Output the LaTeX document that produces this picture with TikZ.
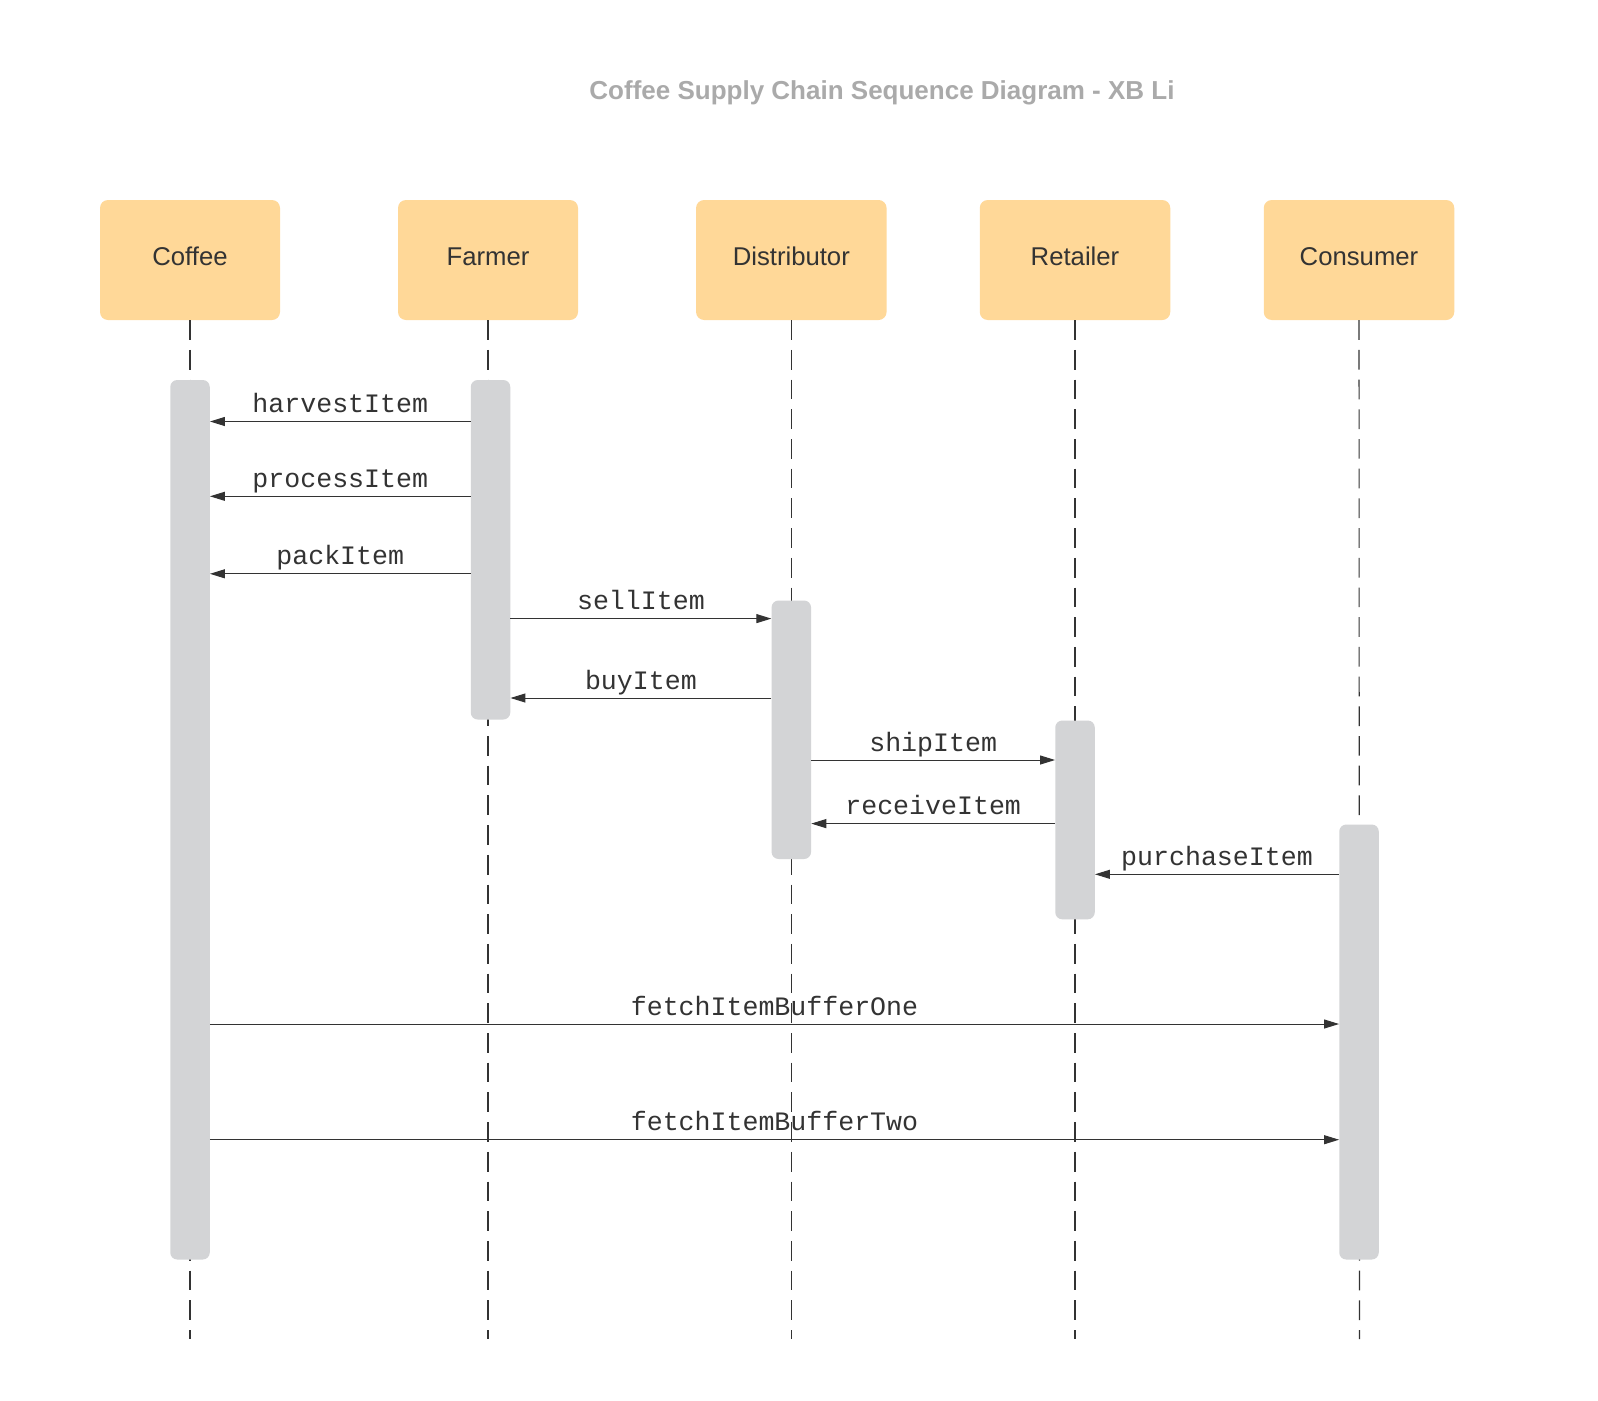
\documentclass[tikz,border=0pt]{standalone}
\usepackage{fontspec}
\setmainfont{Liberation Sans}
\newfontfamily\monofont{Liberation Mono}
\usetikzlibrary{arrows.meta}
\definecolor{boxfill}{HTML}{FFD898}
\definecolor{barfill}{HTML}{D3D4D6}
\definecolor{ink}{HTML}{333333}
\definecolor{titlegray}{HTML}{AAAAAA}
\begin{document}
\begin{tikzpicture}[x=1pt,y=-1pt,
  actor/.style={fill=boxfill, rounded corners=8pt, minimum height=120pt, inner sep=0pt,
    font=\fontsize{25.7}{30}\selectfont, text=ink, text height=16pt, text depth=6pt},
  bar/.style={fill=barfill, rounded corners=7pt, minimum width=39.5pt, inner sep=0pt},
  life/.style={draw=ink, line width=1.1pt, dash pattern=on 19.7pt off 10pt},
  msg/.style={draw=ink, line width=1pt, -{Triangle[length=15pt,width=9pt]}},
  lbl/.style={font=\monofont\fontsize{26.6}{30}\selectfont, text=ink, anchor=base, midway, yshift=9pt}]
\useasboundingbox (0,0) rectangle (1598,1400);
\fill[white] (0,0) rectangle (1598,1400);

% title
\node[font=\bfseries\fontsize{26}{30}\selectfont, text=titlegray, anchor=base] (title) at (882,99)
  {Coffee Supply Chain Sequence Diagram - XB Li};

% actors
\node[actor, minimum width=180pt] (coffee) at (190,260) {Coffee};
\node[actor, minimum width=180pt] (farmer) at (488,260) {Farmer};
\node[actor, minimum width=190.5pt] (distributor) at (791.3,260) {Distributor};
\node[actor, minimum width=190.5pt] (retailer) at (1075,260) {Retailer};
\node[actor, minimum width=190.5pt] (consumer) at (1359,260) {Consumer};

% lifeline ends
\coordinate (coffeeend) at (190,1339);
\coordinate (farmerend) at (488,1339);
\coordinate (distributorend) at (791.3,1339);
\coordinate (retailerend) at (1075,1339);
\coordinate (consumerend) at (1359.5,1339);

\draw[life] (coffee.south) -- (coffeeend);
\draw[life] (farmer.south) -- (farmerend);
\draw[life] (distributor.south) -- (distributorend);
\draw[life] (retailer.south) -- (retailerend);
\draw[life] (consumer.south) -- (consumerend);

% activation bars
\node[bar, minimum height=879.5pt] (coffeebar) at (190,819.75) {};
\node[bar, minimum height=339.5pt] (farmerbar) at (490.5,549.75) {};
\node[bar, minimum height=258.5pt] (distributorbar) at (791.3,729.75) {};
\node[bar, minimum height=198.8pt] (retailerbar) at (1075,819.9) {};
\node[bar, minimum height=435pt] (consumerbar) at (1359,1042) {};

% messages
\draw[msg] (farmerbar.west |- 0,421.5) -- (coffeebar.east |- 0,421.5) node[lbl] {harvestItem};
\draw[msg] (farmerbar.west |- 0,496.3) -- (coffeebar.east |- 0,496.3) node[lbl] {processItem};
\draw[msg] (farmerbar.west |- 0,573.8) -- (coffeebar.east |- 0,573.8) node[lbl] {packItem};
\draw[msg] (farmerbar.east |- 0,618.6) -- (distributorbar.west |- 0,618.6) node[lbl] {sellItem};
\draw[msg] (distributorbar.west |- 0,698) -- (farmerbar.east |- 0,698) node[lbl] {buyItem};
\draw[msg] (distributorbar.east |- 0,760) -- (retailerbar.west |- 0,760) node[lbl] {shipItem};
\draw[msg] (retailerbar.west |- 0,823.6) -- (distributorbar.east |- 0,823.6) node[lbl] {receiveItem};
\draw[msg] (consumerbar.west |- 0,874.3) -- (retailerbar.east |- 0,874.3) node[lbl] {purchaseItem};
\draw[msg] (coffeebar.east |- 0,1024) -- (consumerbar.west |- 0,1024) node[lbl] {fetchItemBufferOne};
\draw[msg] (coffeebar.east |- 0,1139.7) -- (consumerbar.west |- 0,1139.7) node[lbl] {fetchItemBufferTwo};
\end{tikzpicture}
\end{document}
